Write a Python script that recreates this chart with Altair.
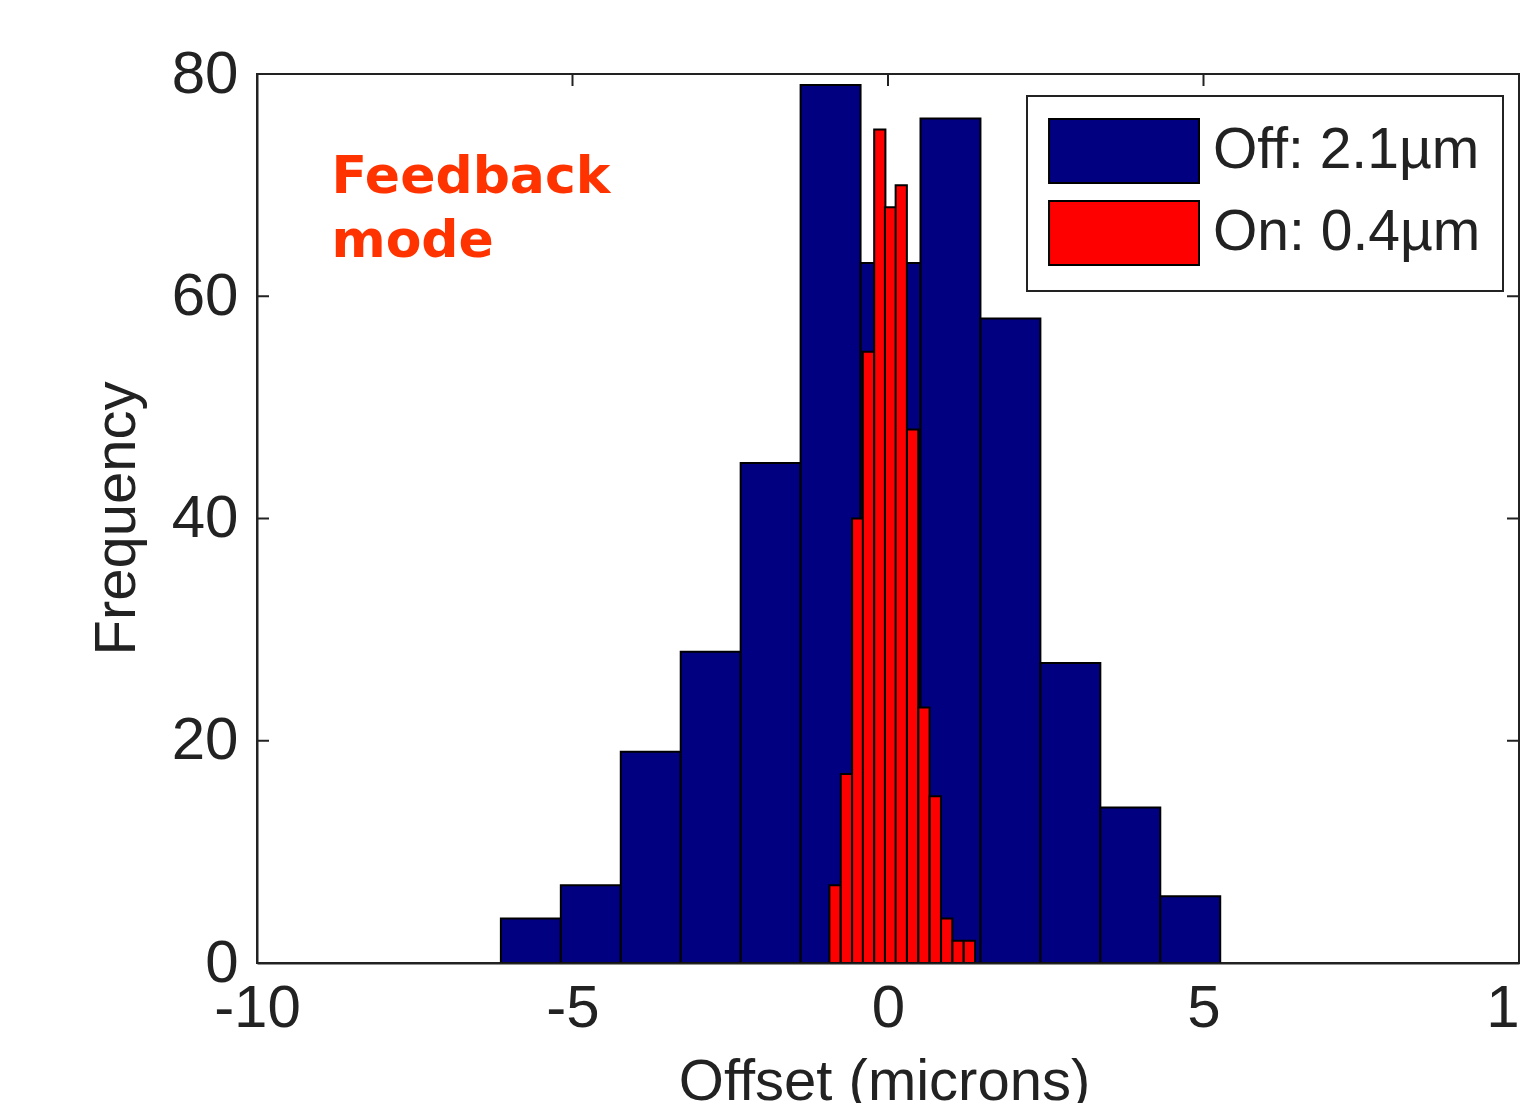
import altair as alt
import pandas as pd

# ---- data ----
off_label = "Off: 2.1µm"
on_label = "On: 0.4µm"

off_centers = [-5.66, -4.71, -3.76, -2.81, -1.86, -0.91, 0.04, 0.99, 1.94, 2.89, 3.84, 4.79]
off_counts = [4, 7, 19, 28, 45, 79, 63, 76, 58, 27, 14, 6]
off_width = 0.95

on_centers = [-0.84, -0.66, -0.48, -0.31, -0.13, 0.04, 0.21, 0.39, 0.57, 0.75, 0.93, 1.11, 1.29]
on_counts = [7, 17, 40, 55, 75, 68, 70, 48, 23, 15, 4, 2, 2]
on_width = 0.178

x_ticks = [-10, -5, 0, 5, 10]
y_ticks = [0, 20, 40, 60, 80]
annotation = "Feedback\nmode"

rows = []
for c, n in zip(off_centers, off_counts):
    rows.append({"series": off_label, "lo": c - off_width / 2, "hi": c + off_width / 2, "count": n, "base": 0})
for c, n in zip(on_centers, on_counts):
    rows.append({"series": on_label, "lo": c - on_width / 2, "hi": c + on_width / 2, "count": n, "base": 0})
df = pd.DataFrame(rows)

W, H = 1262, 889
TICK = 12
INK = "#222222"
FONT = "Liberation Sans"

xscale = alt.Scale(domain=[-10, 10], nice=False)
yscale = alt.Scale(domain=[0, 80], nice=False)

bars = alt.Chart(df).mark_rect(stroke="black", strokeWidth=2).encode(
    x=alt.X("lo:Q", scale=xscale,
            axis=alt.Axis(values=x_ticks, title="Offset (microns)", labelFlush=False,
                          labelExpr="'' + datum.value",
                          labelPadding=16, titleX=627, titleY=136, titleBaseline="alphabetic",
                          titleAlign="center", zindex=1)),
    x2="hi:Q",
    y=alt.Y("count:Q", scale=yscale,
            axis=alt.Axis(values=y_ticks, title="Frequency", labelPadding=19,
                          labelExpr="'' + datum.value",
                          titleX=-123, titleY=444, titleBaseline="alphabetic", titleAngle=270,
                          titleAlign="center", zindex=1)),
    y2="base:Q",
    color=alt.Color("series:N",
                    scale=alt.Scale(domain=[off_label, on_label], range=["#000080", "#FF0000"]),
                    legend=alt.Legend(title=None, orient="none", legendX=770, legendY=22,
                                      symbolType="M-1.03,-1H3.656V1H-1.03Z", symbolSize=4096,
                                      symbolStrokeColor="black", symbolStrokeWidth=2,
                                      symbolOpacity=1,
                                      labelFontSize=57, labelFont=FONT, labelColor=INK,
                                      labelOffset=98, labelLimit=500, rowPadding=10,
                                      padding=22, strokeColor=INK, fillColor="white")),
)

xt = pd.DataFrame({"v": x_ticks})
yt = pd.DataFrame({"v": y_ticks})
tick_style = dict(color=INK, strokeWidth=2)
bottom_ticks = alt.Chart(xt).mark_rule(**tick_style).encode(
    x=alt.X("v:Q", scale=xscale), y=alt.value(H), y2=alt.value(H - TICK))
top_ticks = alt.Chart(xt).mark_rule(**tick_style).encode(
    x=alt.X("v:Q", scale=xscale), y=alt.value(0), y2=alt.value(TICK))
left_ticks = alt.Chart(yt).mark_rule(**tick_style).encode(
    y=alt.Y("v:Q", scale=yscale), x=alt.value(0), x2=alt.value(TICK))
right_ticks = alt.Chart(yt).mark_rule(**tick_style).encode(
    y=alt.Y("v:Q", scale=yscale), x=alt.value(W), x2=alt.value(W - TICK))

note = alt.Chart(pd.DataFrame({"t": [annotation]})).mark_text(
    align="left", baseline="alphabetic", font="DejaVu Sans", fontWeight="bold",
    fontSize=52, color="#FF3300", lineBreak="\n", lineHeight=63.4,
).encode(x=alt.datum(-8.82), y=alt.datum(69.26), text="t:N")

chart = alt.layer(bottom_ticks, top_ticks, left_ticks, right_ticks, bars, note).properties(
    width=W, height=H,
    autosize=alt.AutoSizeParams(type="none"),
    padding={"left": 249, "top": 66, "right": 2, "bottom": 140},
).configure_view(stroke=INK, strokeWidth=2).configure_axis(
    grid=False, ticks=False, tickSize=0, domainColor=INK, domainWidth=2,
    labelFont=FONT, labelFontSize=60, labelColor=INK,
    titleFont=FONT, titleFontSize=58, titleColor=INK, titleFontWeight="normal",
).configure_legend(strokeWidth=2)

chart.save("out.html", embed_options={"renderer": "svg", "actions": False})
